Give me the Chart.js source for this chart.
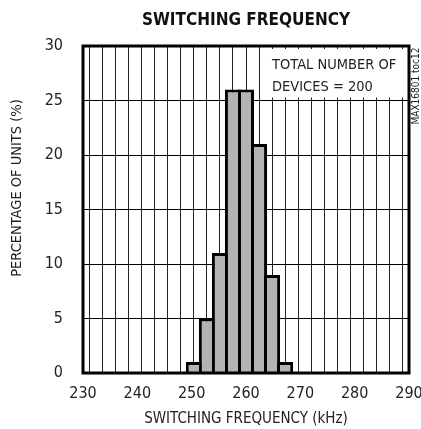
<!DOCTYPE html>
<html><head><meta charset="utf-8">
<script src="https://cdn.jsdelivr.net/npm/chart.js@4"></script>
<style>html,body{margin:0;padding:0;background:#fff}canvas{display:block}</style>
</head><body>
<canvas id="c" width="421" height="429"></canvas>
<script>
// ---- data ----
const binStartKHz = [249.2, 251.6, 254.0, 256.4, 258.8, 261.2, 263.6, 266.0];
const percentUnits = [1, 5, 11, 26, 26, 21, 9, 1];
const binWidthKHz = 2.4;
const xTickValues = [230, 240, 250, 260, 270, 280, 290];
const yTickValues = [0, 5, 10, 15, 20, 25, 30];
const gridColumnCount = 25;
const titleText = 'SWITCHING FREQUENCY';
const xTitle = 'SWITCHING FREQUENCY (kHz)';
const yTitle = 'PERCENTAGE OF UNITS (%)';
const noteLines = ['TOTAL NUMBER OF', 'DEVICES = 200'];
const tocLabel = 'MAX16801 toc12';

const FONT = "'Liberation Sans Narrow', 'DejaVu Sans Condensed', 'Arial Narrow', sans-serif";

const framePlugin = {
  id: 'frame',
  beforeDatasetsDraw(chart) {
    const {ctx, chartArea: a, scales} = chart;
    const bx = scales.xg.getPixelForValue(14) + 1.5;
    const by = a.top + 3;
    const bh = scales.y.getPixelForValue(25) - 3 - by;
    ctx.save();
    ctx.fillStyle = '#fff';
    ctx.fillRect(bx, by, a.right - bx, bh);
    ctx.fillStyle = '#222';
    ctx.font = '14.5px ' + FONT;
    ctx.textBaseline = 'alphabetic';
    ctx.textAlign = 'left';
    ctx.fillText(noteLines[0], bx + 5, a.top + 23);
    ctx.fillText(noteLines[1], bx + 5, a.top + 45);
    ctx.restore();
  },
  afterDatasetsDraw(chart) {
    const {ctx, chartArea: a} = chart;
    ctx.save();
    ctx.strokeStyle = '#000';
    ctx.lineWidth = 3;
    ctx.strokeRect(a.left, a.top, a.right - a.left, a.bottom - a.top);
    ctx.restore();
  },
  afterDraw(chart) {
    const {ctx, chartArea: a} = chart;
    ctx.save();
    // y-axis title
    ctx.translate(17, 188);
    ctx.rotate(-Math.PI / 2);
    ctx.fillStyle = '#222';
    ctx.font = '14.5px ' + FONT;
    ctx.textAlign = 'center';
    ctx.textBaseline = 'middle';
    ctx.fillText(yTitle, 0, 0);
    ctx.restore();
    ctx.save();
    ctx.translate(a.right + 7, a.top + 40);
    ctx.rotate(-Math.PI / 2);
    ctx.fillStyle = '#222';
    ctx.font = '10px ' + FONT;
    ctx.textAlign = 'center';
    ctx.textBaseline = 'middle';
    ctx.fillText(tocLabel, 0, 0);
    ctx.restore();
  }
};

new Chart(document.getElementById('c'), {
  type: 'bar',
  data: {
    datasets: [{
      data: binStartKHz.map((s, i) => ({x: s + binWidthKHz / 2, y: percentUnits[i]})),
      backgroundColor: '#b3b3b3',
      borderColor: '#000',
      borderWidth: 3,
      barPercentage: 1.23,
      categoryPercentage: 1,
      xAxisID: 'x',
      yAxisID: 'y'
    }]
  },
  options: {
    responsive: false,
    animation: false,
    layout: {padding: {left: 0, right: 12, top: 0, bottom: 0}},
    plugins: {
      legend: {display: false},
      tooltip: {enabled: false},
      title: {display: false}
    },
    scales: {
      x: {
        type: 'linear',
        position: 'bottom',
        offset: false,
        min: 230, max: 290,
        afterBuildTicks: s => { s.ticks = xTickValues.map(v => ({value: v})); },
        grid: {display: false, drawTicks: false, offset: false},
        border: {display: false},
        ticks: {color: '#222', font: {family: FONT, size: 16}, padding: 11, maxRotation: 0},
        title: {display: true, text: xTitle, color: '#222', font: {family: FONT, size: 15}, padding: {top: 0, bottom: 1}},
        afterFit: s => { s.height = 56; s.paddingLeft = 0; s.paddingRight = 0; }
      },
      xg: {
        type: 'linear',
        position: 'top',
        offset: false,
        min: 0, max: gridColumnCount,
        afterBuildTicks: s => { s.ticks = Array.from({length: gridColumnCount + 1}, (_, i) => ({value: i})); },
        grid: {color: '#222', lineWidth: 1, drawTicks: false},
        border: {display: false},
        ticks: {display: false},
        title: {display: true, text: titleText, color: '#111', font: {family: FONT, size: 17, weight: 'bold'}, padding: {top: 10, bottom: 0}},
        afterFit: s => { s.height = 46; s.paddingLeft = 0; s.paddingRight = 0; }
      },
      y: {
        min: 0, max: 30,
        afterBuildTicks: s => { s.ticks = yTickValues.map(v => ({value: v})); },
        grid: {color: '#000', lineWidth: 1, drawTicks: false},
        border: {display: false},
        ticks: {color: '#222', font: {family: FONT, size: 16}, padding: 20},
        title: {display: false},
        afterFit: s => { s.width = 83; }
      }
    }
  },
  plugins: [framePlugin]
});
</script>
</body></html>
